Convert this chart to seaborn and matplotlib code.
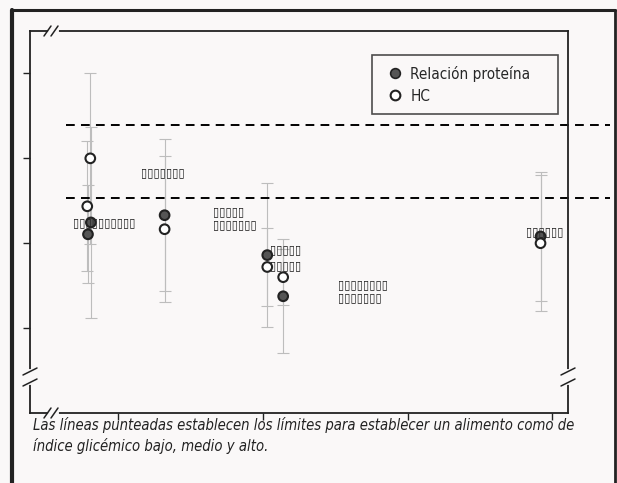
import seaborn as sns
import matplotlib.pyplot as plt
import pandas as pd
from matplotlib.lines import Line2D

# values (arbitrary units, axis has no tick labels)
series = ["Relación proteína", "HC", "Relación proteína", "HC",
          "Relación proteína", "HC",
          "Relación proteína", "HC", "HC", "Relación proteína",
          "Relación proteína", "HC"]
x_pos = [0.81, 0.806, 0.79, 0.785,
         1.32, 1.32,
         2.03, 2.03, 2.14, 2.14,
         3.92, 3.92]
y_val = [44.9, 60.0, 42.1, 48.7,
         46.6, 43.3,
         37.2, 34.4, 32.0, 27.5,
         41.6, 40.0]
y_err = [22.4, 20.2, 11.5, 15.3,
         17.9, 17.2,
         16.9, 9.2, 6.6, 13.4,
         15.1, 16.0]

gi_limits = [50.6, 67.8]
y_ticks = [20, 40, 60, 80]
x_ticks = [1, 2, 3, 4]

# placeholder labels (rendered as empty boxes in the original)
box = "\u25af"
labels = [box * 10, box * 7, box * 5 + "\n" + box * 7, box * 5, box * 5,
          box * 8 + "\n" + box * 7, box * 6]
label_x = [0.6875, 1.16, 1.653, 2.049, 2.049, 2.52, 3.82]
label_y = [44.9, 56.7, 45.85, 38.4, 34.6, 28.7, 42.8]

df = pd.DataFrame({"serie": series, "x": x_pos, "y": y_val, "err": y_err})

sns.set_style("white")
plt.rcParams["font.family"] = ["DejaVu Sans"]
plt.rcParams["font.stretch"] = "condensed"

W, H = 617, 483
fig = plt.figure(figsize=(W / 100, H / 100), dpi=100)
bg = "#faf8f8"
fig.patch.set_facecolor(bg)
ax = fig.add_axes([30 / W, 1 - 413 / H, 538 / W, 382 / H])
ax.set_facecolor(bg)

# error bars
ax.errorbar(df["x"], df["y"], yerr=df["err"], fmt="none", ecolor="#bdbdbd",
            elinewidth=0.8, capsize=4, capthick=0.8, zorder=1)

# threshold lines, running past the right spine
for lim in gi_limits:
    ax.hlines(lim, 0.64, 4.40, colors="black", linestyles=(0, (4.5, 3.2)),
              linewidth=1.4, clip_on=False, zorder=2)

sns.scatterplot(data=df, x="x", y="y", hue="serie", style="serie",
                hue_order=["Relación proteína", "HC"],
                palette={"Relación proteína": "#555555", "HC": "white"},
                markers={"Relación proteína": "o", "HC": "o"},
                s=48, edgecolor="#222222", linewidth=1.5, zorder=4,
                legend=False, ax=ax)

for t, lx, ly in zip(labels, label_x, label_y):
    ax.text(lx, ly, t, fontsize=9, fontweight="bold", va="center",
            ha="left", linespacing=1.05, color="#222222", zorder=5)

ax.set_xlim(0.389, 4.11)
ax.set_ylim(0, 90)
ax.set_xticks(x_ticks)
ax.set_yticks(y_ticks)
ax.set_xticklabels([])
ax.set_yticklabels([])
ax.set_xlabel("")
ax.set_ylabel("")
ax.tick_params(axis="both", direction="out", length=5, width=1.0,
               color="#222222", bottom=True, left=True)
for sp in ax.spines.values():
    sp.set_color("#222222")
    sp.set_linewidth(1.3)

handles = [
    Line2D([], [], marker="o", ls="", markersize=7, markerfacecolor="#555555",
           markeredgecolor="#222222", markeredgewidth=1.2),
    Line2D([], [], marker="o", ls="", markersize=7, markerfacecolor="white",
           markeredgecolor="#222222", markeredgewidth=1.5),
]
leg = ax.legend(handles, ["Relación proteína", "HC"], loc="upper left",
                bbox_to_anchor=(0.636, 0.783, 0.345, 0.154), mode="expand",
                fontsize=11, frameon=True, fancybox=False, borderpad=0.7,
                labelspacing=0.45, handletextpad=0.2, handlelength=1.6,
                borderaxespad=0)
leg.get_frame().set_edgecolor("#222222")
leg.get_frame().set_linewidth(1.2)
leg.get_frame().set_facecolor(bg)


def fline(xs, ys, **kw):
    fx = [x / W for x in xs]
    fy = [1 - y / H for y in ys]
    fig.add_artist(Line2D(fx, fy, transform=fig.transFigure, **kw))


# outer frame
fline([12, 12], [10, 483], color="#222222", lw=3)
fline([12, 615], [10, 10], color="#222222", lw=2.2)
fline([615, 615], [10, 483], color="#222222", lw=2)

# axis break marks
fline([50, 57], [31, 31], color=bg, lw=3, zorder=10)
fline([44, 51], [36, 26], color="#222222", lw=1.1, zorder=11)
fline([51, 58], [36, 26], color="#222222", lw=1.1, zorder=11)
fline([50, 57], [413, 413], color=bg, lw=3, zorder=10)
fline([44, 51], [418, 408], color="#222222", lw=1.1, zorder=11)
fline([51, 58], [418, 408], color="#222222", lw=1.1, zorder=11)
for sx in (30, 568):
    fline([sx, sx], [371, 383], color=bg, lw=3, zorder=10)
    fline([sx - 7, sx + 7], [375, 368], color="#222222", lw=1.1, zorder=11)
    fline([sx - 7, sx + 7], [386, 379], color="#222222", lw=1.1, zorder=11)

caption = ("Las líneas punteadas establecen los límites para establecer un alimento como de\n"
           "índice glicémico bajo, medio y alto.")
fig.text(33 / W, 1 - 413 / H - 0.008, caption, fontsize=10.65, style="italic",
         va="top", ha="left", linespacing=1.4, color="#222222")

fig.savefig("out.png", dpi=100, facecolor=bg)
